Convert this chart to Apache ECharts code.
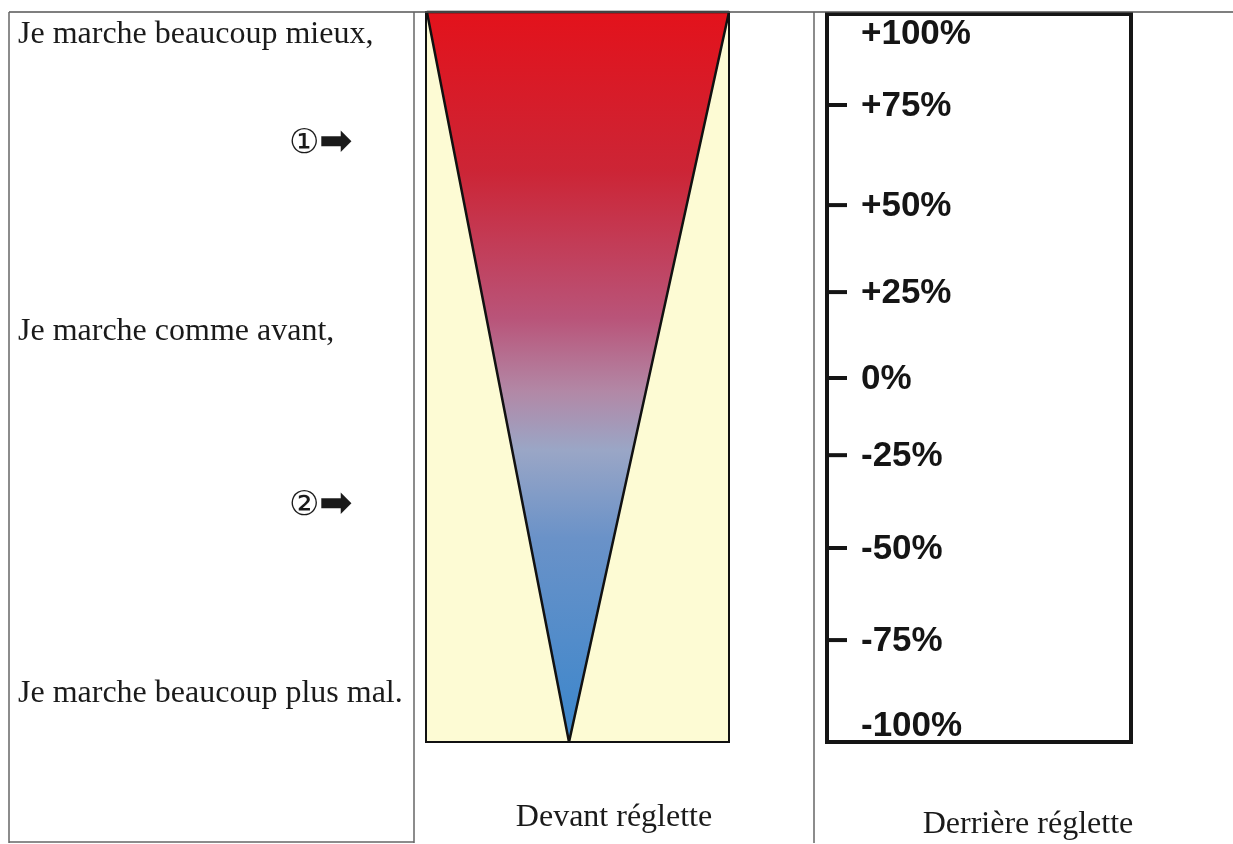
<!DOCTYPE html>
<html>
<head>
<meta charset="utf-8">
<script src="https://cdn.jsdelivr.net/npm/echarts@6/dist/echarts.min.js"></script>
<style>
html,body{margin:0;padding:0;background:#fff;}
#chart{width:1233px;height:844px;}
</style>
</head>
<body>
<div id="chart"></div>
<script>
// ---- data ----
// triangle vertices on the front ruler (x fraction of width, y scale -100..100)
var triangleX = [0.003, 1.0, 0.472];
var triangleY = [100, 100, -100];
// gradient stops of the triangle (offset, colour)
var gradientOffsets = [0, 0.22, 0.42, 0.52, 0.6, 0.72, 1];
var gradientColors = ['#e3121b', '#cc2536', '#b95479', '#b288a6', '#9aa6c6', '#6a92c8', '#3a86cc'];
// back ruler: label text, its read position on the -100..100 scale, tick drawn?
var rulerLabels = ['+100%', '+75%', '+50%', '+25%', '0%', '-25%', '-50%', '-75%', '-100%'];
var rulerPositions = [94.8, 75.0, 47.5, 23.6, 0, -21.2, -46.7, -72.0, -95.3];
var rulerHasTick = [false, true, true, true, true, true, true, true, false];
// left column texts
var leftTexts = ['Je marche beaucoup mieux,', 'Je marche comme avant,', 'Je marche beaucoup plus mal.'];
var markerDigits = ['\u2460', '\u2461'];
var markerArrow = '\u27A1';
var captionTexts = ['Devant réglette', 'Derrière réglette'];

var chart = echarts.init(document.getElementById('chart'), null, {renderer: 'canvas'});

var triData = triangleX.map(function (x, i) { return [x, triangleY[i]]; });
var rulerData = rulerLabels.map(function (l, i) { return [0, rulerPositions[i], l, rulerHasTick[i] ? 1 : 0]; });

var stops = gradientOffsets.map(function (o, i) { return {offset: o, color: gradientColors[i]}; });

var serif = '"Liberation Serif", "Times New Roman", serif';
var txtFont = '32px ' + serif;

function midText(x, y, t, font, align) {
  return {type: 'text', x: x, y: y, style: {text: t, font: font, fill: '#1a1a1a', align: align || 'left', verticalAlign: 'middle'}};
}

var option = {
  animation: false,
  backgroundColor: '#ffffff',
  grid: [
    {left: 426, top: 12, width: 303, height: 730, show: true, backgroundColor: '#fdfbd4', borderColor: '#111', borderWidth: 2},
    {left: 827, top: 14, width: 304, height: 728, show: true, backgroundColor: '#ffffff', borderColor: '#151515', borderWidth: 4}
  ],
  xAxis: [
    {gridIndex: 0, type: 'value', min: 0, max: 1, show: false},
    {gridIndex: 1, type: 'value', min: 0, max: 1, show: false}
  ],
  yAxis: [
    {gridIndex: 0, type: 'value', min: -100, max: 100, show: false},
    {gridIndex: 1, type: 'value', min: -100, max: 100, show: false}
  ],
  series: [
    {
      type: 'custom',
      xAxisIndex: 0, yAxisIndex: 0,
      data: triData,
      renderItem: function (params, api) {
        if (params.dataIndex !== 0) return null;
        var pts = triData.map(function (d) { return api.coord(d); });
        return {
          type: 'polygon',
          shape: {points: pts},
          style: {
            fill: new echarts.graphic.LinearGradient(0, 0, 0, 1, stops),
            stroke: '#111',
            lineWidth: 2.5,
            lineJoin: 'bevel'
          }
        };
      }
    },
    {
      type: 'custom',
      xAxisIndex: 1, yAxisIndex: 1,
      data: rulerData,
      renderItem: function (params, api) {
        var p = api.coord([0, api.value(1)]);
        var d = rulerData[params.dataIndex];
        var children = [];
        if (d[3]) {
          children.push({
            type: 'rect',
            shape: {x: p[0], y: p[1] - 2, width: 20, height: 4},
            style: {fill: '#151515'}
          });
        }
        children.push({
          type: 'text',
          x: p[0] + 34, y: p[1] + 1,
          style: {
            text: d[2],
            fill: '#151515',
            font: 'bold 35px "Liberation Sans", Arial, sans-serif',
            verticalAlign: 'middle',
            align: 'left'
          }
        });
        return {type: 'group', children: children};
      }
    }
  ],
  graphic: [
    // table lines
    {type: 'line', shape: {x1: 9, y1: 12, x2: 1233, y2: 12}, style: {stroke: '#555', lineWidth: 1.5}, z: 100},
    {type: 'line', shape: {x1: 9, y1: 12, x2: 9, y2: 843}, style: {stroke: '#666', lineWidth: 1.5}, z: 100},
    {type: 'line', shape: {x1: 414, y1: 12, x2: 414, y2: 843}, style: {stroke: '#666', lineWidth: 1.5}, z: 100},
    {type: 'line', shape: {x1: 814, y1: 12, x2: 814, y2: 843}, style: {stroke: '#666', lineWidth: 1.5}, z: 100},
    {type: 'line', shape: {x1: 9, y1: 842, x2: 414, y2: 842}, style: {stroke: '#666', lineWidth: 1.5}, z: 100},
    // left column texts
    midText(18, 35, leftTexts[0], txtFont),
    midText(18, 332, leftTexts[1], txtFont),
    midText(18, 694, leftTexts[2], txtFont),
    midText(289, 144, markerDigits[0], '34px "DejaVu Sans", "Noto Sans CJK JP", sans-serif'),
    midText(319, 144, markerArrow, 'bold 40px "DejaVu Sans", sans-serif'),
    midText(289, 506, markerDigits[1], '34px "DejaVu Sans", "Noto Sans CJK JP", sans-serif'),
    midText(319, 506, markerArrow, 'bold 40px "DejaVu Sans", sans-serif'),
    // captions
    midText(614, 818, captionTexts[0], txtFont, 'center'),
    midText(1028, 825, captionTexts[1], txtFont, 'center')
  ]
};
chart.setOption(option);
</script>
</body>
</html>
